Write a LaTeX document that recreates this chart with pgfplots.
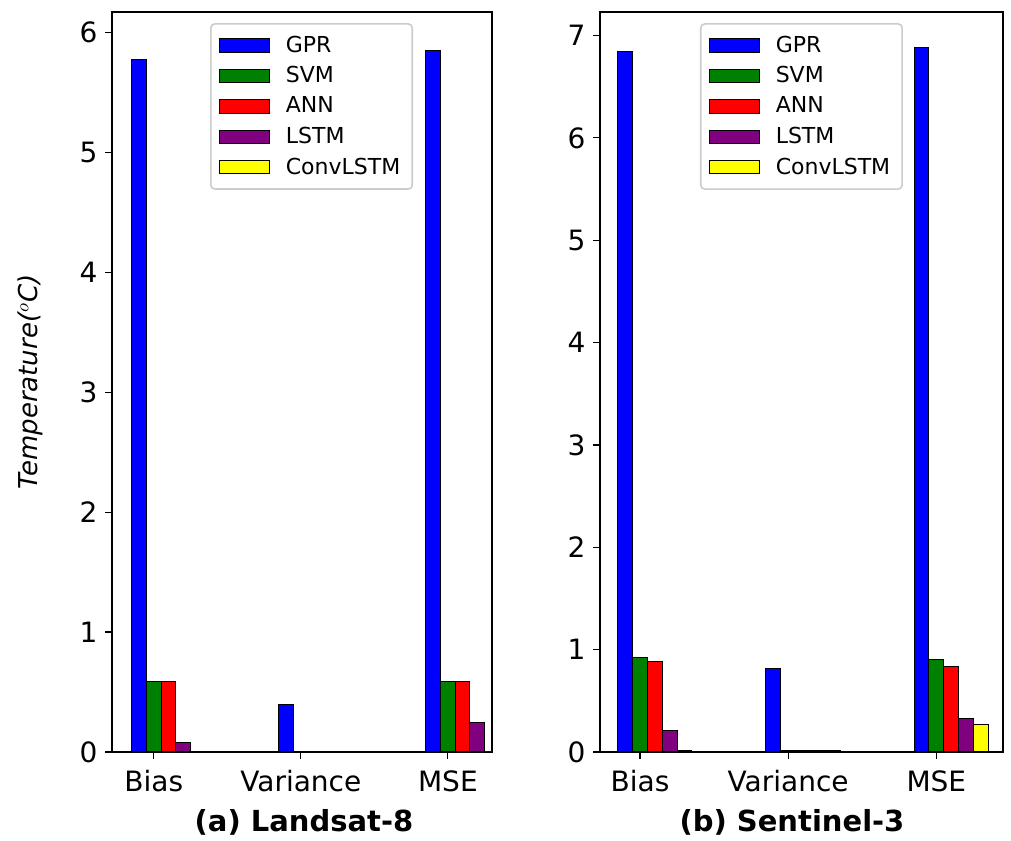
\documentclass[border=0pt]{standalone}
\usepackage{fontspec}
\setmainfont{DejaVu Sans}
\usepackage{pgfplots}
\pgfplotsset{compat=1.18}
\definecolor{mblue}{RGB}{0,0,255}
\definecolor{mgreen}{RGB}{0,128,0}
\definecolor{mred}{RGB}{255,0,0}
\definecolor{mpurple}{RGB}{128,0,128}
\definecolor{myellow}{RGB}{255,255,0}
\pgfplotsset{
  lg/.style={draw=black, line width=0.5pt,
    legend image code/.code={\draw[##1, sharp corners] (0pt,-3.3pt) rectangle (25pt,3.3pt); \path (31pt,0pt);}},
  mystyle/.style={
    scale only axis, anchor=south west, ybar, bar width=0.1, bar shift=0pt,
    ymin=0, xtick={0,1,2}, xticklabels={Bias,Variance,MSE},
    tick align=outside, tick pos=left, major tick length=3.5pt,
    tick style={black, line width=0.6pt},
    axis line style={line width=0.8pt},
    every axis/.append style={line width=0.8pt},
    ticklabel style={font=\fontsize{14}{16}\selectfont},
    xticklabel style={yshift=-2pt},
    /pgf/number format/assume math mode=true,
    legend style={anchor=north west, draw=black!20, rounded corners=2pt,
      font=\fontsize{11}{12}\selectfont, row sep=1.6pt, inner xsep=4pt, inner ysep=4pt},
    legend cell align=left,
  }
}
\begin{document}
\begin{tikzpicture}
\path[use as bounding box] (0,0) rectangle (505.5pt,420pt);
\begin{axis}[mystyle, at={(56pt,44pt)}, width=190pt, height=370pt,
  xmin=-0.284, xmax=2.3, ymax=6.17, ytick={0,1,2,3,4,5,6},
  legend style={at={(0.258,0.985)}},
  ylabel={\itshape Temperature($^{o}$C)},
  ylabel style={at={(axis description cs:-0.216,0.5)}, anchor=center, font=\fontsize{13}{15}\selectfont}]
\addplot[fill=mblue, lg] coordinates {(-0.1,5.77) (0.9,0.40) (1.9,5.85)};
\addplot[fill=mgreen, lg] coordinates {(0,0.59) (1,0.005) (2,0.59)};
\addplot[fill=mred, lg] coordinates {(0.1,0.59) (1.1,0.005) (2.1,0.59)};
\addplot[fill=mpurple, lg] coordinates {(0.2,0.083) (1.2,0.005) (2.2,0.245)};
\addplot[fill=myellow, lg] coordinates {(0.3,0.008) (1.3,0.005) (2.3,0)};
\legend{GPR,SVM,ANN,LSTM,ConvLSTM}
\end{axis}
\begin{axis}[mystyle, at={(300pt,44pt)}, width=201.5pt, height=370pt,
  xmin=-0.27, xmax=2.45, ymax=7.23, ytick={0,1,2,3,4,5,6,7},
  legend style={at={(0.248,0.985)}}]
\addplot[fill=mblue, lg] coordinates {(-0.1,6.84) (0.9,0.82) (1.9,6.88)};
\addplot[fill=mgreen, lg] coordinates {(0,0.92) (1,0.01) (2,0.90)};
\addplot[fill=mred, lg] coordinates {(0.1,0.88) (1.1,0.01) (2.1,0.84)};
\addplot[fill=mpurple, lg] coordinates {(0.2,0.21) (1.2,0.01) (2.2,0.33)};
\addplot[fill=myellow, lg] coordinates {(0.3,0.01) (1.3,0.01) (2.3,0.27)};
\legend{GPR,SVM,ANN,LSTM,ConvLSTM}
\end{axis}
\node[font=\bfseries\fontsize{14.5}{16}\selectfont] at (152pt,9pt) {(a) Landsat-8};
\node[font=\bfseries\fontsize{14.5}{16}\selectfont] at (396pt,9pt) {(b) Sentinel-3};
\end{tikzpicture}
\end{document}
